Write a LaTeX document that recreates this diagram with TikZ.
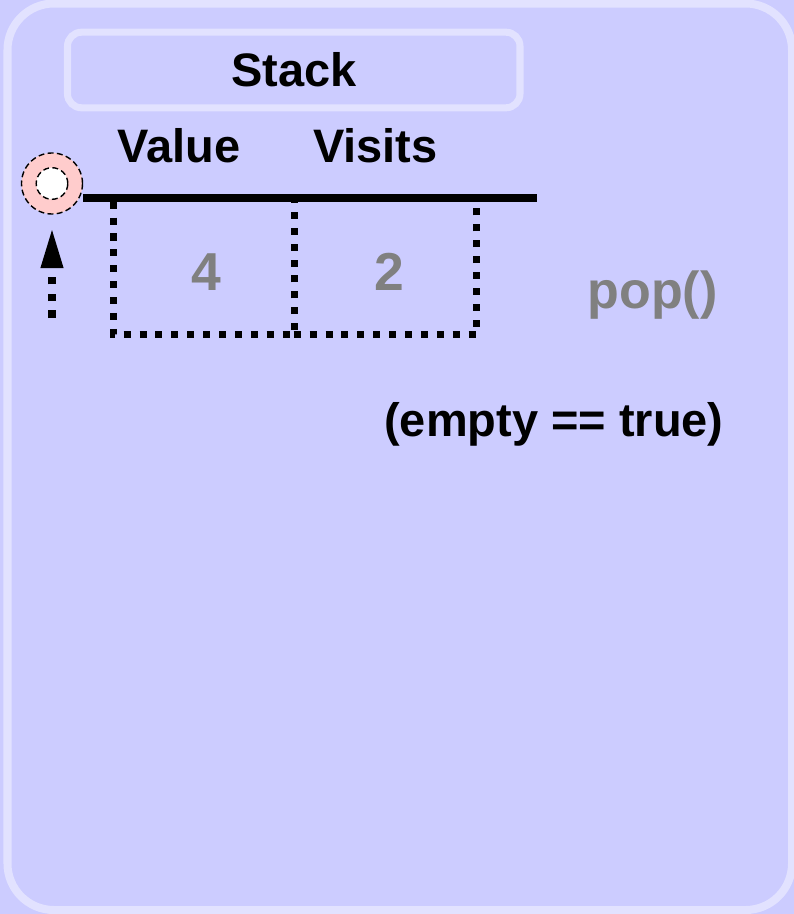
\documentclass[tikz,border=0pt]{standalone}
\usepackage{fontspec}
\setmainfont{Liberation Sans}
\usetikzlibrary{arrows.meta}
\definecolor{panelfill}{HTML}{CCCCFF}
\definecolor{panelrim}{HTML}{E2E2FF}
\definecolor{ringfill}{HTML}{FFCCCC}
\definecolor{greytext}{HTML}{808080}
\begin{document}
\begin{tikzpicture}[x=0.025cm, y=-0.025cm,
    txt/.style={inner sep=0pt, font=\fontsize{33.4}{40}\selectfont\bfseries},
    celledge/.style={line width=5pt, dash pattern=on 5pt off 6.3pt},
    ringline/.style={draw, line width=1pt, dash pattern=on 4.2pt off 2.4pt}]
    % Hintergrund und Rahmen
    \fill[panelfill] (0,0) rectangle (794,914);
    \useasboundingbox (0,0) rectangle (794,914);
    \draw[panelrim, line width=5.7pt, rounded corners=33pt] (7.5,3.5) rectangle (792,910);
    % Titel
    \node[txt, draw=panelrim, line width=5pt, rounded corners=10pt, minimum width=11.31cm, minimum height=1.89cm] (stack) at (293.75,70) {Stack};
    % Spaltenkoepfe
    \node[txt] (value) at (179,146) {Value};
    \node[txt] (visits) at (375.5,146) {Visits};
    % Zellen
    \node[minimum width=4.51cm, minimum height=3.3cm, inner sep=0pt] (cellA) at (203.75,268) {};
    \node[minimum width=4.56cm, minimum height=3.3cm, inner sep=0pt] (cellB) at (385.25,268) {};
    \draw[celledge] (cellA.north west) |- (cellA.south east) -- (cellA.north east);
    \draw[celledge] (cellB.south west) -- (cellB.south east) -- (cellB.north east);
    \node[txt, text=greytext, font=\fontsize{38}{44}\selectfont\bfseries] (valA) at (206.5,272) {4};
    \node[txt, text=greytext, font=\fontsize{38}{44}\selectfont\bfseries] (visA) at (389,272) {2};
    % Oberkante
    \coordinate (lineL) at (83,198);
    \coordinate (lineR) at (537,198);
    \draw[line width=5.7pt] (lineL) -- (lineR);
    % Zeiger
    \node[circle, ringline, fill=ringfill, minimum size=1.525cm, inner sep=0pt] (ring) at (52,183.5) {};
    \node[circle, ringline, fill=white, minimum size=0.79cm, inner sep=0pt] (hole) at (ring.center) {};
    \coordinate (arrowfoot) at (52,318);
    \draw[line width=5.4pt, dash pattern=on 5.4pt off 6.6pt, shorten >=10.9pt,
      -{Triangle[length=27pt, width=16.5pt, line width=0pt]}] (arrowfoot) -- (ring.south);
    % Operation
    \node[txt, text=greytext, font=\fontsize{37}{42}\selectfont\bfseries] (pop) at (652.5,295) {pop()};
    \node[txt] (empty) at (554,424.5) {(empty == true)};
\end{tikzpicture}
\end{document}
